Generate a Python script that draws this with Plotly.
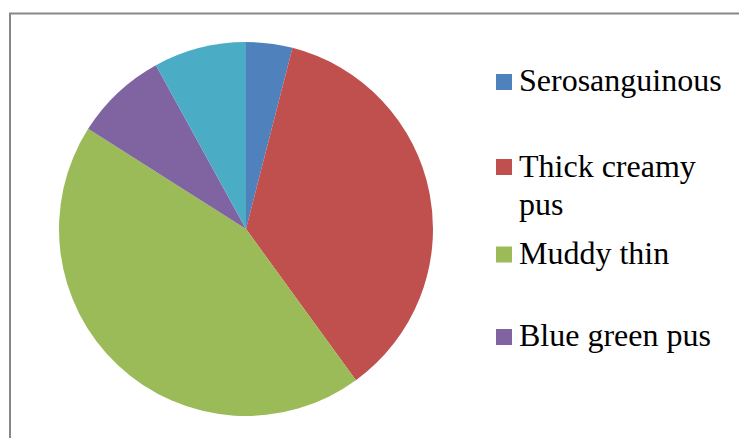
import plotly.graph_objects as go

labels = ["Serosanguinous", "Thick creamy pus", "Muddy thin", "Blue green pus", "Others"]
values = [4, 36, 44, 8, 8]
colors = ["#4F81BD", "#C0504D", "#9BBB59", "#8064A2", "#4BACC6"]
legend_labels = ["Serosanguinous", "Thick creamy pus", "Muddy thin", "Blue green pus"]
legend_lines = {"Thick creamy pus": ["Thick creamy", "pus"]}

W, H = 739, 438

fig = go.Figure(go.Pie(
    labels=labels, values=values, sort=False, direction="clockwise", rotation=0,
    marker=dict(colors=colors, line=dict(width=0)),
    textinfo="none", hoverinfo="label+value", showlegend=False,
    domain=dict(x=[59 / W, 433 / W], y=[1 - 416 / H, 1 - 42 / H]),
))

def px(x):
    return x / W

def py(y):
    return 1 - y / H

shapes = [dict(type="rect", xref="paper", yref="paper",
               x0=px(10), y0=py(13.5), x1=px(760), y1=py(460),
               line=dict(color="#878787", width=2), fillcolor="rgba(0,0,0,0)")]
annotations = []
sq_y = [82, 167, 254.5, 337]
tx_y = [80.3, 165.5, 253, 335.3]
font = dict(family="Liberation Serif", size=32, color="#000000")
for lab, ys, yt in zip(legend_labels, sq_y, tx_y):
    col = colors[labels.index(lab)]
    shapes.append(dict(type="rect", xref="paper", yref="paper",
                       x0=px(496), x1=px(512), y0=py(ys - 8), y1=py(ys + 8),
                       line=dict(width=0), fillcolor=col))
    for i, line in enumerate(legend_lines.get(lab, [lab])):
        annotations.append(dict(xref="paper", yref="paper", x=px(516.5), y=py(yt + 38.3 * i),
                                xanchor="left", yanchor="middle", text=line,
                                showarrow=False, font=font))

fig.update_layout(width=W, height=H, margin=dict(l=0, r=0, t=0, b=0),
                  paper_bgcolor="white", plot_bgcolor="white",
                  shapes=shapes, annotations=annotations)
fig.write_html("out.html")
